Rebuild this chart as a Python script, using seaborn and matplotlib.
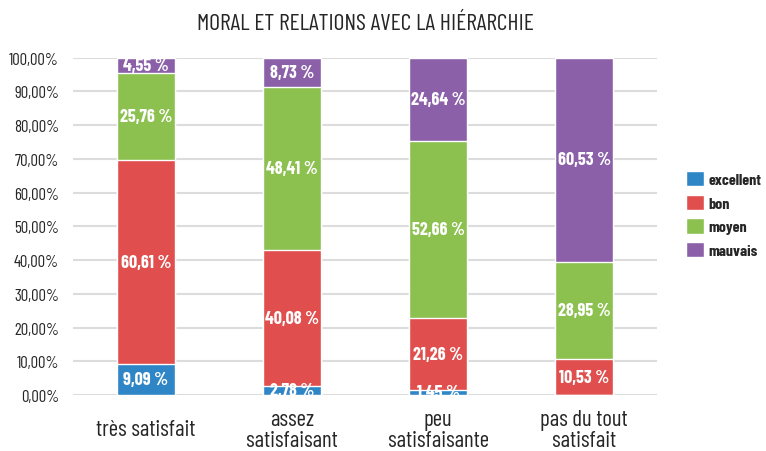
import matplotlib
matplotlib.use('Agg')
import matplotlib.pyplot as plt
import numpy as np
import pandas as pd
import seaborn as sns

sns.set_style("white")
plt.rcParams['font.family'] = ['Barlow Condensed', 'DejaVu Sans']

# données
categories = ['très satisfait', 'assez\nsatisfaisant', 'peu\nsatisfaisante', 'pas du tout\nsatisfait']
series = ['excellent', 'bon', 'moyen', 'mauvais']
excellent = [9.09, 2.78, 1.45, 0.0]
bon = [60.61, 40.08, 21.26, 10.53]
moyen = [25.76, 48.41, 52.66, 28.95]
mauvais = [4.55, 8.73, 24.64, 60.53]
colors = ['#2f86c7', '#e04e4e', '#8cc04f', '#8b60a8']

values = np.array([excellent, bon, moyen, mauvais])
cum = values.cumsum(axis=0)

fig, ax = plt.subplots(figsize=(7.66, 4.52), dpi=100)
fig.subplots_adjust(left=0.095, right=0.858, top=0.87, bottom=0.124)

# empilement : on dessine les cumuls du haut vers le bas
for i in range(len(series) - 1, -1, -1):
    df = pd.DataFrame({'cat': categories, 'val': cum[i]})
    sns.barplot(data=df, x='cat', y='val', color=colors[i], width=0.4,
                saturation=1, ax=ax, label=series[i], zorder=2)

for i in range(len(series)):
    for j in range(len(categories)):
        v = values[i, j]
        if v <= 0:
            continue
        ax.text(j, cum[i, j] - v / 2, f'{v:.2f} %'.replace('.', ','),
                ha='center', va='center', color='white', fontsize=13,
                fontweight='bold', zorder=3)

ax.set_ylim(0, 100)
ax.set_xlim(-0.5, 3.5)
ax.set_yticks(np.arange(0, 101, 10))
ax.set_yticklabels([f'{t:.2f}%'.replace('.', ',') for t in range(0, 101, 10)], fontsize=12)
ax.tick_params(axis='x', labelsize=16.5, length=0, pad=25)
ax.tick_params(axis='y', length=0, pad=10)
for lbl in ax.get_xticklabels():
    lbl.set_verticalalignment('center')
    lbl.set_linespacing(1.0)
ax.set_xlabel('')
ax.set_ylabel('')
ax.yaxis.grid(True, color='#dcdcdc', linewidth=1.5, zorder=0)
ax.set_axisbelow(True)
for s in ax.spines.values():
    s.set_visible(False)

ax.set_title('MORAL ET RELATIONS AVEC LA HIÉRARCHIE', fontsize=17, pad=21)

handles, labels = ax.get_legend_handles_labels()
order = [labels.index(s) for s in series]
leg = ax.legend([handles[k] for k in order], [labels[k] for k in order],
                loc='center left', bbox_to_anchor=(1.05, 0.535), frameon=False,
                borderaxespad=0, borderpad=0,
                handlelength=1.1, handleheight=1.1, handletextpad=0.3,
                labelspacing=0.48, prop={'weight': 'bold', 'size': 11.5})

plt.savefig('out.png', dpi=100, facecolor='white')
